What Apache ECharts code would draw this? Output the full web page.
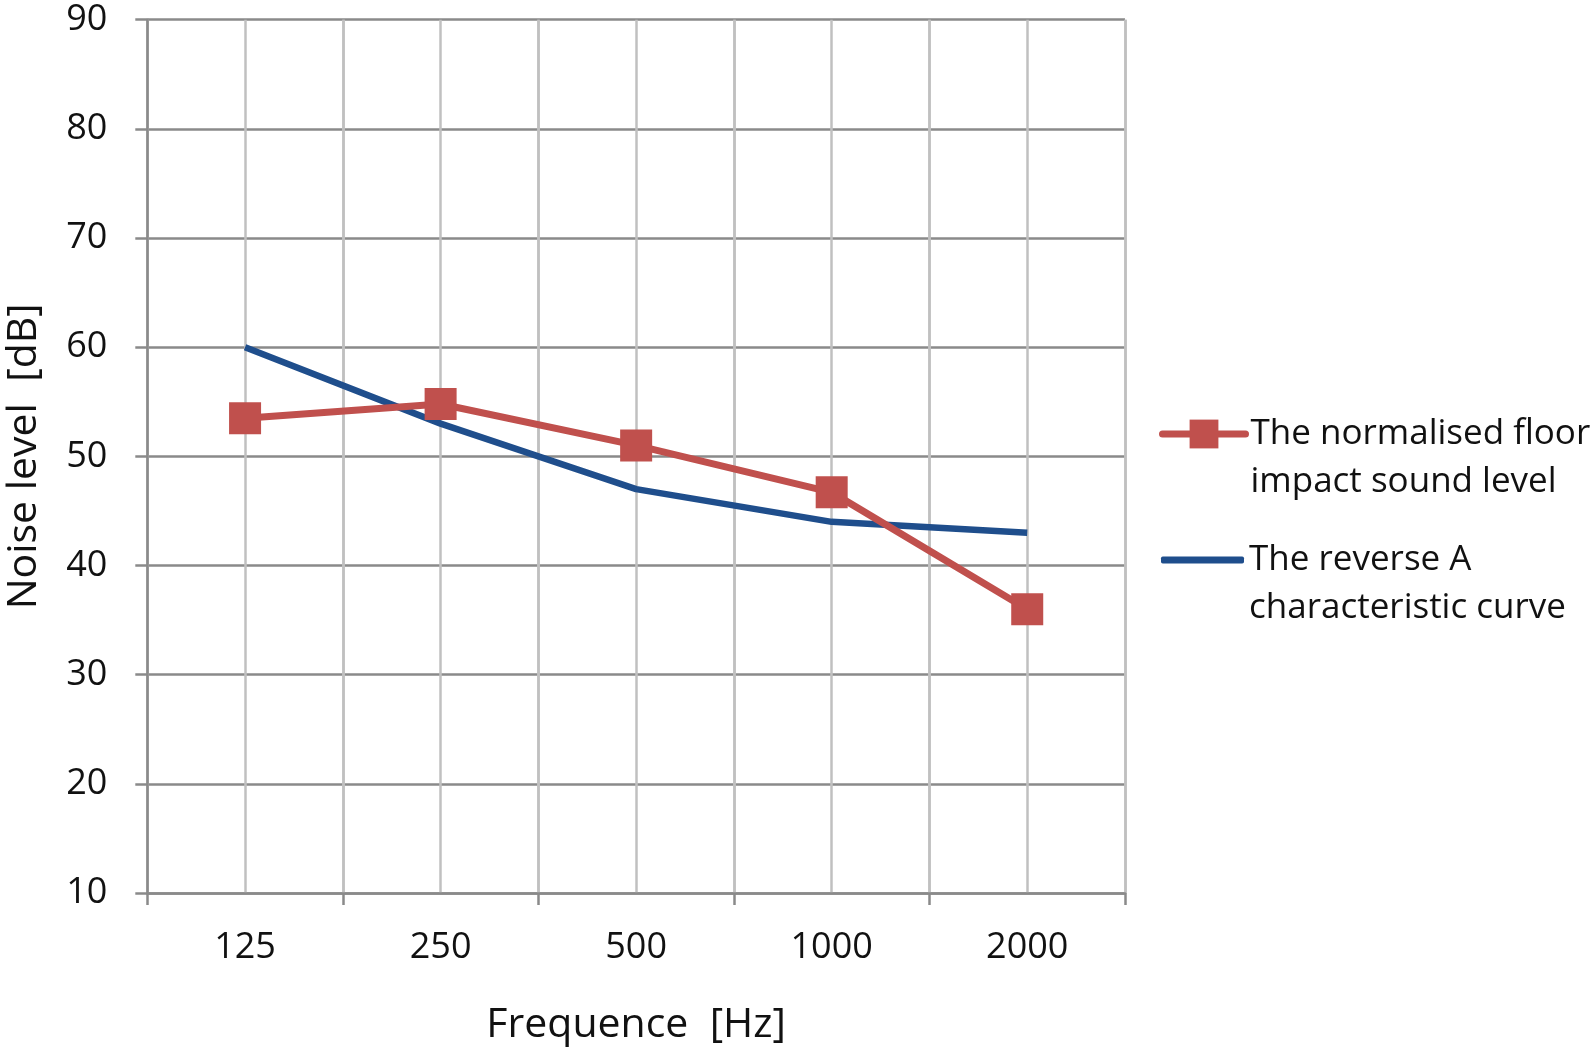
<!DOCTYPE html>
<html>
<head>
<meta charset="utf-8">
<script src="https://cdn.jsdelivr.net/npm/echarts@6/dist/echarts.min.js"></script>
<style>
html,body{margin:0;padding:0;background:#fff;}
#chart{width:1595px;height:1054px;}
</style>
</head>
<body>
<div id="chart"></div>
<script>
const categories = ['125', '250', '500', '1000', '2000'];
const floorImpact = [53.5, 54.8, 51.0, 46.7, 36.0];
const reverseA = [60.0, 53.0, 47.0, 44.0, 43.0];
const seriesNames = ['The normalised floor\nimpact sound level', 'The reverse A\ncharacteristic curve'];
const yTicks = { min: 10, max: 90, interval: 10 };

const FONT = '"Open Sans", "Noto Sans", sans-serif';
const RED = '#C0504D';
const BLUE = '#1F4E8C';
const AXIS = '#8a8a8a';
const GRID_V = '#c0c0c0';

const chart = echarts.init(document.getElementById('chart'), null, { renderer: 'canvas' });

function legendFor(item, top, left, itemHeight, color) {
  return {
    data: [item],
    orient: 'vertical',
    left: left,
    top: top,
    padding: 0,
    itemWidth: 83,
    itemHeight: itemHeight,
    itemGap: 0,
    selectedMode: false,
    lineStyle: { width: 7, color: color, cap: 'round' },
    formatter: function (name) { return '\u00a0\n' + name; },
    textStyle: {
      fontFamily: FONT,
      fontSize: 35,
      color: '#111',
      lineHeight: 48,
      padding: [0, 0, 0, 0]
    }
  };
}

chart.setOption({
  animation: false,
  backgroundColor: '#fff',
  grid: { left: 147.3, right: 470, top: 19.7, bottom: 161, containLabel: false, outerBoundsMode: 'none' },
  legend: [
    legendFor({ name: seriesNames[0] }, 434 - 72, 1159, 36, RED),
    legendFor({ name: seriesNames[1], icon: 'roundRect' }, 560 - 72, 1161, 7, BLUE)
  ],
  xAxis: [
    {
      type: 'category',
      data: categories,
      boundaryGap: true,
      name: 'Frequence  [Hz]',
      nameLocation: 'middle',
      nameGap: 112,
      nameTextStyle: { fontFamily: FONT, fontSize: 41, color: '#111' },
      axisLine: { show: true, lineStyle: { color: AXIS, width: 2.5 } },
      axisTick: { show: true, inside: false, length: 12, alignWithLabel: false, lineStyle: { color: AXIS, width: 2.5 } },
      axisLabel: { fontFamily: FONT, fontSize: 36, color: '#111', margin: 37 },
      splitLine: { show: true, lineStyle: { color: GRID_V, width: 2.5 } }
    },
    {
      type: 'value',
      min: 0, max: 10, interval: 1,
      position: 'bottom',
      show: true,
      axisLine: { show: false },
      axisTick: { show: false },
      axisLabel: { show: false },
      splitLine: { show: true, lineStyle: { color: GRID_V, width: 2.5 } }
    }
  ],
  yAxis: {
    type: 'value',
    min: yTicks.min, max: yTicks.max, interval: yTicks.interval,
    name: 'Noise level  [dB]',
    nameLocation: 'middle',
    nameGap: 102,
    nameTextStyle: { fontFamily: FONT, fontSize: 41, color: '#111' },
    axisLine: { show: true, lineStyle: { color: AXIS, width: 2.5 } },
    axisTick: { show: true, inside: false, length: 12, lineStyle: { color: AXIS, width: 2.5 } },
    axisLabel: { fontFamily: FONT, fontSize: 36, color: '#111', margin: 40 },
    splitLine: { show: true, lineStyle: { color: AXIS, width: 2.5 } }
  },
  series: [
    {
      name: seriesNames[0],
      type: 'line',
      xAxisIndex: 0,
      data: floorImpact,
      symbol: 'rect',
      symbolSize: 32,
      lineStyle: { color: RED, width: 7 },
      itemStyle: { color: RED },
      z: 3
    },
    {
      name: seriesNames[1],
      type: 'line',
      xAxisIndex: 0,
      data: reverseA,
      symbol: 'none',
      lineStyle: { color: BLUE, width: 6.5 },
      itemStyle: { color: BLUE },
      z: 2
    }
  ]
});
</script>
</body>
</html>
